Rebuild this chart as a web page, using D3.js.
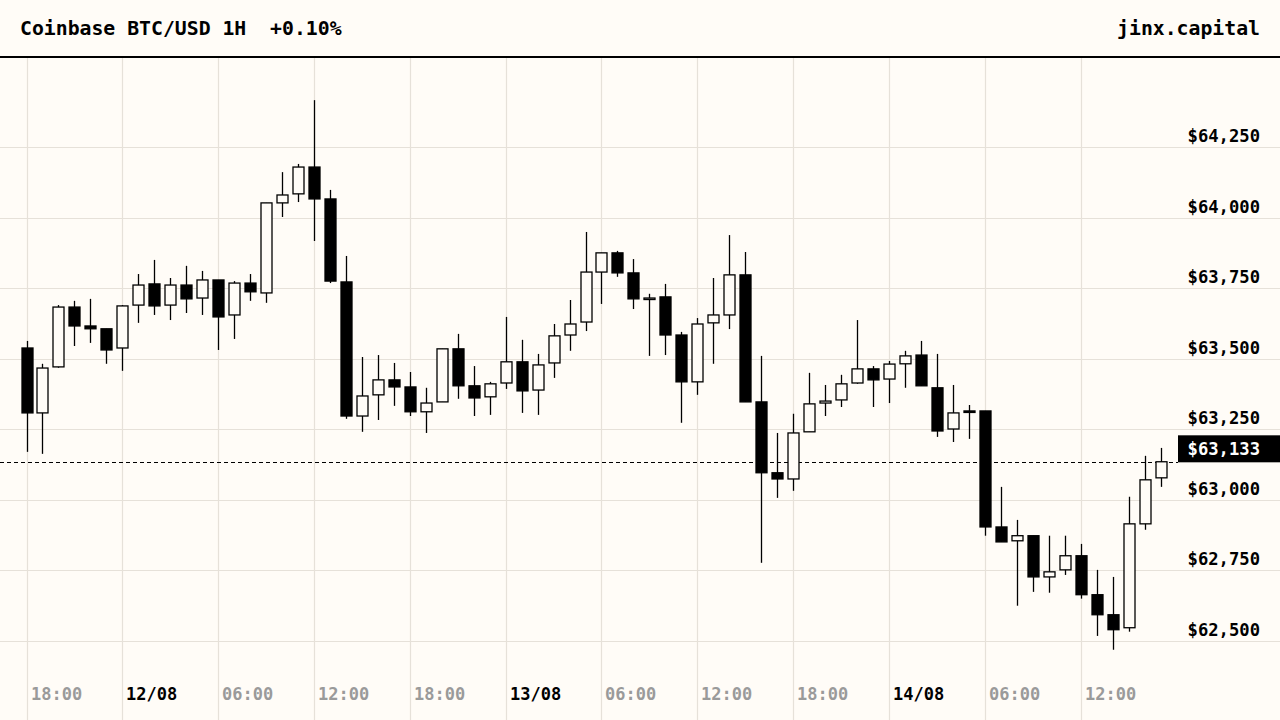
<!DOCTYPE html>
<html><head><meta charset="utf-8">
<script src="https://cdn.jsdelivr.net/npm/d3@7"></script>
<style>html,body{margin:0;padding:0;background:#fffcf7;}svg{display:block;font-family:"DejaVu Sans Mono",monospace;font-weight:bold;}</style>
</head><body><svg id="c" width="1280" height="720"></svg>
<script>
const startTime = "2024-08-11T18:00";
const opens  = [63538,63308,63471,63683,63616,63606,63538,63690,63765,63690,63761,63715,63779,63655,63768,63733,64052,64084,64179,64066,63772,63297,63372,63425,63400,63312,63347,63535,63404,63365,63414,63489,63389,63485,63584,63630,63807,63875,63804,63712,63719,63584,63418,63627,63655,63797,63347,63096,63074,63241,63343,63354,63414,63464,63428,63482,63513,63397,63251,63315,63315,62904,62855,62873,62727,62752,62802,62664,62593,62547,62915,63078];
const highs  = [63563,63482,63690,63705,63712,63606,63690,63800,63850,63786,63829,63811,63779,63775,63800,64052,64161,64190,64416,64098,63864,63506,63513,63485,63453,63397,63535,63588,63474,63418,63648,63567,63517,63623,63708,63949,63875,63882,63853,63730,63765,63595,63644,63786,63938,63878,63510,63237,63305,63450,63407,63443,63637,63474,63492,63528,63563,63517,63407,63336,63315,63046,62929,62873,62873,62873,62844,62752,62727,63011,63156,63184];
const lows   = [63170,63163,63468,63545,63556,63482,63457,63627,63655,63637,63662,63655,63531,63570,63705,63698,64002,64055,63917,63768,63287,63241,63283,63333,63297,63237,63347,63358,63297,63301,63393,63308,63301,63432,63528,63598,63694,63790,63676,63510,63513,63273,63372,63482,63605,63347,62777,63007,63032,63241,63297,63329,63411,63329,63343,63397,63404,63223,63205,63216,62873,62851,62625,62674,62671,62734,62650,62518,62469,62533,62894,63046];
const closes = [63308,63467,63683,63616,63606,63531,63687,63761,63687,63761,63712,63779,63648,63768,63737,64052,64080,64179,64066,63775,63297,63368,63425,63400,63312,63343,63535,63404,63361,63411,63489,63386,63478,63581,63623,63807,63875,63804,63712,63715,63584,63418,63623,63655,63797,63347,63096,63074,63237,63340,63350,63411,63464,63425,63481,63510,63404,63244,63308,63311,62904,62851,62873,62727,62745,62802,62664,62593,62540,62915,63071,63135];
const yTicks = [62500,62750,63000,63250,63500,63750,64000,64250];
const titleText = "Coinbase BTC/USD 1H  +0.10%";
const brandText = "jinx.capital";
const lastPrice = 63133;

const svg = d3.select("#c");
const W = 1280, H = 720;
const t0 = new Date(startTime);
const times = opens.map((_, i) => new Date(t0.getTime() + i * 3600e3));
const data = times.map((t, i) => ({t, o: opens[i], h: highs[i], l: lows[i], c: closes[i]}));

const x = d3.scaleTime().domain([times[0], times[times.length - 1]]).range([26.5, 1160.5]);
const y = d3.scaleLinear().domain([62500, 64250]).range([641, 147]);
const grid = "#e6e1d9";

svg.append("rect").attr("width", W).attr("height", H).attr("fill", "#fffcf7");

svg.append("g").selectAll("line").data(yTicks).join("line")
  .attr("x1", 0).attr("x2", W).attr("y1", d => Math.round(y(d)) + 0.5).attr("y2", d => Math.round(y(d)) + 0.5)
  .attr("stroke", grid).attr("stroke-width", 1.2);

const xTicks = d3.timeHour.every(6).range(times[0], new Date(times[times.length - 1].getTime() + 1));
svg.append("g").selectAll("line").data(xTicks).join("line")
  .attr("x1", d => Math.round(x(d)) + 0.5).attr("x2", d => Math.round(x(d)) + 0.5).attr("y1", 58).attr("y2", H)
  .attr("stroke", grid).attr("stroke-width", 1.2);

svg.append("g").selectAll("text").data(xTicks).join("text")
  .attr("x", d => Math.round(x(d)) + 4).attr("y", 700)
  .attr("font-size", 17)
  .attr("fill", d => d.getHours() === 0 ? "#000" : "#9a9a9a")
  .text(d => d.getHours() === 0 ? d3.timeFormat("%d/%m")(d) : d3.timeFormat("%H:%M")(d));

const fmt = d => "$" + d3.format(",")(d);
svg.append("g").selectAll("text").data(yTicks).join("text")
  .attr("x", 1260).attr("y", d => y(d) - 5).attr("text-anchor", "end")
  .attr("font-size", 17.2).attr("fill", "#000").text(fmt);

svg.append("line").attr("x1", 0).attr("x2", 1178).attr("y1", Math.round(y(lastPrice)) + 0.5).attr("y2", Math.round(y(lastPrice)) + 0.5)
  .attr("stroke", "#000").attr("stroke-dasharray", "4,3").attr("stroke-width", 1);
svg.append("rect").attr("x", 1178).attr("y", y(lastPrice) - 27).attr("width", 102).attr("height", 27).attr("fill", "#000");
svg.append("text").attr("x", 1260).attr("y", y(lastPrice) - 7).attr("text-anchor", "end")
  .attr("font-size", 17.2).attr("fill", "#fff").text(fmt(lastPrice));

const bw = 11;
const g = svg.append("g");
g.selectAll("line.w").data(data).join("line").attr("class", "w")
  .attr("x1", d => Math.round(x(d.t)) + 0.5).attr("x2", d => Math.round(x(d.t)) + 0.5)
  .attr("y1", d => y(d.h)).attr("y2", d => y(d.l)).attr("stroke", "#000").attr("stroke-width", 1.3);
g.selectAll("rect.b").data(data).join("rect").attr("class", "b")
  .attr("x", d => Math.round(x(d.t)) - bw / 2 + 0.5)
  .attr("y", d => y(Math.max(d.o, d.c)))
  .attr("width", bw)
  .attr("height", d => Math.max(1.5, Math.abs(y(d.o) - y(d.c))))
  .attr("fill", d => d.c >= d.o ? "#fffcf7" : "#000")
  .attr("stroke", "#000").attr("stroke-width", 1.3);

svg.append("rect").attr("width", W).attr("height", 57).attr("fill", "#fffcf7");
svg.append("line").attr("x1", 0).attr("x2", W).attr("y1", 57).attr("y2", 57).attr("stroke", "#000").attr("stroke-width", 2);
svg.append("text").attr("x", 20).attr("y", 35).attr("font-size", 19.8).attr("fill", "#000").style("white-space", "pre").text(titleText);
svg.append("text").attr("x", 1260).attr("y", 35).attr("text-anchor", "end").attr("font-size", 19.8).attr("fill", "#000").text(brandText);
</script></body></html>
